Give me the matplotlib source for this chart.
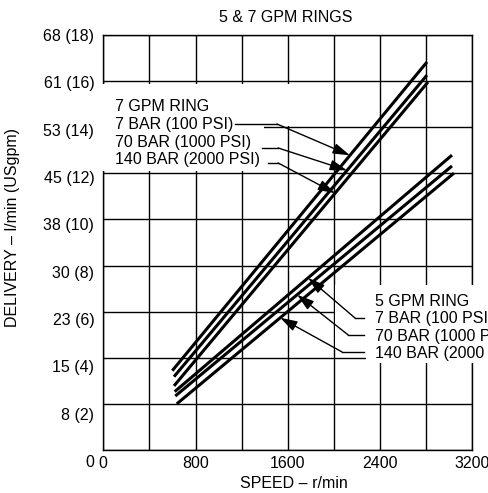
# Delivery vs speed for 5 & 7 GPM rings
import matplotlib.pyplot as plt
import matplotlib.transforms as mtransforms
from matplotlib.patches import Rectangle
import numpy as np

# Data (speed r/min, delivery USgpm)
speed_7_a = [598, 2807]
flow_7_a = [3.44, 16.83]
speed_7_b = [613, 2807]
flow_7_b = [3.18, 16.26]
speed_7_c = [613, 2816]
flow_7_c = [2.78, 15.96]

speed_5_a = [619, 3024]
flow_5_a = [2.53, 12.79]
speed_5_b = [624, 3024]
flow_5_b = [2.34, 12.32]
speed_5_c = [637, 3041]
flow_5_c = [2.00, 12.01]

x_ticks = [0, 800, 1600, 2400, 3200]
y_ticks = [0, 2, 4, 6, 8, 10, 12, 14, 16, 18]
y_labels = ["0", "8 (2)", "15 (4)", "23 (6)", "30 (8)", "38 (10)",
            "45 (12)", "53 (14)", "61 (16)", "68 (18)"]

labels_7 = ["7 GPM RING", "7 BAR (100 PSI)", "70 BAR (1000 PSI)", "140 BAR (2000 PSI)"]
labels_5 = ["5 GPM RING", "7 BAR (100 PSI)", "70 BAR (1000 PSI)", "140 BAR (2000 PSI)"]

plt.rcParams["font.family"] = ["Liberation Sans", "DejaVu Sans"]
fs = 11.5

fig = plt.figure(figsize=(4.88, 4.93), dpi=100)
ax = fig.add_axes([0.2117, 0.0872, 0.7561, 0.8418])
ax.set_xlim(0, 3200)
ax.set_ylim(0, 18)
ax.set_axisbelow(True)

# grid every 400 r/min and 2 gpm
ax.set_xticks(np.arange(0, 3201, 400), minor=True)
ax.set_xticks(x_ticks)
ax.set_xticklabels([str(t) for t in x_ticks], fontsize=fs)
ax.set_yticks(y_ticks)
ax.set_yticklabels(y_labels, fontsize=fs)
ax.grid(True, which="both", color="black", linewidth=1.0)
ax.tick_params(which="both", length=0)
ax.tick_params(axis="x", pad=4.5)
ax.tick_params(axis="y", pad=6.5)
for s in ax.spines.values():
    s.set_linewidth(1.0)

# y labels sit a little lower the further down they are
for lab, t in zip(ax.get_yticklabels(), y_ticks):
    off = -(18 - t) / 18 * 8 / 72
    lab.set_transform(lab.get_transform() + mtransforms.ScaledTranslation(0, off, fig.dpi_scale_trans))

ax.set_xlabel("SPEED – r/min", fontsize=fs)
ax.xaxis.set_label_coords(0.517, -0.062)
ax.set_ylabel("DELIVERY – l/min (USgpm)", fontsize=fs)
ax.yaxis.set_label_coords(-0.226, 0.535)
ax.text(0.495, 1.043, "5 & 7 GPM RINGS", transform=ax.transAxes,
        ha="center", va="center", fontsize=fs)

# white masks behind the label blocks
masks = [(-0.012, 0.672, 0.447, 0.21), (0.43, 0.78, 0.08, 0.102),
         (0.628, 0.241, 0.45, 0.157), (0.712, 0.210, 0.37, 0.188)]
for mx, my, mw, mh in masks:
    ax.add_patch(Rectangle((mx, my), mw, mh, transform=ax.transAxes,
                           facecolor="white", edgecolor="none", zorder=3, clip_on=False))

line_kw = dict(color="black", linewidth=2.2, solid_capstyle="butt", zorder=4)
series = [(speed_7_a, flow_7_a), (speed_7_b, flow_7_b), (speed_7_c, flow_7_c),
          (speed_5_a, flow_5_a), (speed_5_b, flow_5_b), (speed_5_c, flow_5_c)]
for sx, sy in series:
    ax.plot(sx, sy, **line_kw)

# label text (the 5 GPM block runs off the right edge, as in the original)
for i, t in enumerate(labels_7):
    ax.text(102, 14.88 - i * 0.765, t, fontsize=fs, va="center", ha="left", zorder=5)
for i, t in enumerate(labels_5):
    ax.text(2356, 6.46 - i * 0.765, t, fontsize=fs, va="center", ha="left",
            zorder=5, clip_on=False)

# leader arrows: (leader start x, knee x, knee y, tip x, series)
leaders = [
    (1143, 1506, 14.14, 2139, series[0]),
    (1378, 1516, 13.10, 2114, series[1]),
    (1430, 1516, 12.45, 2010, series[2]),
    (2262, 2184, 5.72, 1776, series[3]),
    (2262, 2124, 4.99, 1681, series[4]),
    (2262, 2071, 4.25, 1534, series[5]),
]
for x0, kx, ky, tx, (sx, sy) in leaders:
    ax.plot([x0, kx], [ky, ky], color="black", linewidth=1.0, zorder=5, clip_on=False)
    ax.annotate("", xy=(tx, np.interp(tx, sx, sy)), xytext=(kx, ky),
                arrowprops=dict(arrowstyle="-|>,head_length=0.9,head_width=0.28",
                                color="black", linewidth=1.0, shrinkA=0, shrinkB=0),
                fontsize=fs, zorder=6)

fig.savefig("out.png", dpi=100)
